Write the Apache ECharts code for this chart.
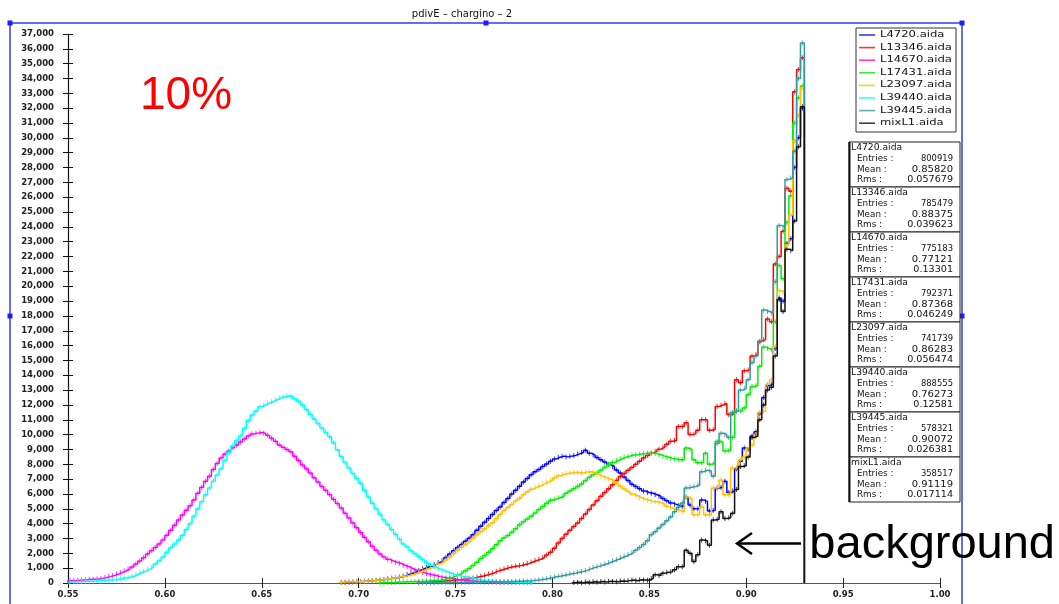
<!DOCTYPE html>
<html>
<head>
<meta charset="utf-8">
<script src="https://cdn.jsdelivr.net/npm/echarts@6/dist/echarts.min.js"></script>
<style>
html, body { margin: 0; padding: 0; background: #fff; }
#chart { width: 1059px; height: 604px; }
</style>
</head>
<body>
<div id="chart"></div>
<script>
// pdivE distributions for the chargino samples, 0.002-wide bins.
// Bin contents are in thousands of entries; each array starts at the lower edge given by *_FIRST.
const BIN_WIDTH = 0.002;

const seriesNames = ['L4720.aida', 'L13346.aida', 'L14670.aida', 'L17431.aida',
                     'L23097.aida', 'L39440.aida', 'L39445.aida', 'mixL1.aida'];

const L4720_FIRST = 0.69;
const L4720 = [
  0.03,0.04,0.05,0.06,0.08,0.1,0.12,0.14,0.16,0.18,
  0.2,0.24,0.28,0.32,0.36,0.4,0.48,0.57,0.66,0.76,
  0.86,0.96,1.08,1.15,1.25,1.38,1.5,1.72,1.95,2.18,
  2.4,2.6,2.82,3.02,3.25,3.55,3.82,4.1,4.35,4.62,
  4.88,5.12,5.42,5.7,6.0,6.25,6.52,6.8,7.05,7.3,
  7.5,7.65,7.85,8.02,8.2,8.35,8.48,8.55,8.5,8.55,
  8.6,8.7,8.8,8.95,8.75,8.62,8.45,8.3,8.15,7.98,
  7.85,7.62,7.42,7.15,6.9,6.65,6.5,6.35,6.2,6.1,
  6.05,5.95,5.85,5.7,5.55,5.4,5.3,5.2,5.15,5.8,
  5.25,5.0,5.0,5.6,5.5,4.85,4.9,6.4,6.45,6.85,
  6.1,6.2,7.7,8.2,9.1,9.0,9.9,10.2,11.4,12.5,
  13.3,13.4,15.8,19.2,19.0,22.9,23.2,28.0,30.0,32.0
];

const L13346_FIRST = 0.73;
const L13346 = [
  0.05,0.06,0.07,0.08,0.09,0.11,0.13,0.15,0.17,0.2,
  0.22,0.25,0.27,0.3,0.34,0.4,0.46,0.52,0.6,0.68,
  0.8,0.88,0.96,1.04,1.1,1.14,1.18,1.25,1.32,1.42,
  1.52,1.6,1.72,1.88,2.08,2.35,2.7,3.0,3.28,3.55,
  3.8,4.05,4.35,4.65,4.95,5.25,5.55,5.85,6.1,6.35,
  6.62,6.9,7.18,7.38,7.6,7.78,8.0,8.2,8.42,8.6,
  8.75,8.88,9.02,9.15,9.35,9.55,9.6,10.55,10.55,10.8,
  10.0,10.05,10.3,11.0,11.0,10.3,10.35,11.9,12.0,12.1,
  11.35,11.4,13.7,13.5,14.3,14.35,15.3,15.4,16.3,16.4,
  17.8,17.6,21.5,22.0,23.7,26.6,26.4,33.1,34.6,35.4
];

const L14670_FIRST = 0.55;
const L14670 = [
  0.15,0.16,0.18,0.2,0.22,0.25,0.26,0.28,0.31,0.37,
  0.43,0.5,0.6,0.7,0.82,0.94,1.08,1.28,1.48,1.7,
  1.95,2.18,2.4,2.62,2.9,3.22,3.55,3.9,4.25,4.58,
  4.9,5.2,5.6,6.05,6.45,6.85,7.2,7.65,8.05,8.42,
  8.7,8.9,9.12,9.3,9.5,9.7,9.9,10.05,10.1,10.15,
  10.1,9.95,9.75,9.55,9.3,9.15,9.0,8.85,8.55,8.25,
  7.95,7.7,7.42,7.1,6.8,6.5,6.25,5.95,5.65,5.35,
  5.05,4.7,4.38,4.05,3.72,3.4,3.08,2.78,2.48,2.2,
  1.95,1.75,1.6,1.48,1.4,1.32,1.2,1.1,0.98,0.88,
  0.78,0.7,0.62,0.55,0.5,0.43,0.38,0.34,0.3,0.26,
  0.22,0.2,0.17,0.15,0.13,0.11,0.1,0.08,0.07,0.06,
  0.05,0.04,0.03,0.03,0.02,0.02,0.02,0.01,0.01,0.01
];

const L17431_FIRST = 0.71;
const L17431 = [
  0.02,0.03,0.04,0.04,0.05,0.06,0.07,0.08,0.09,0.1,
  0.1,0.12,0.13,0.15,0.17,0.19,0.22,0.28,0.36,0.45,
  0.56,0.68,0.82,0.98,1.18,1.4,1.65,1.85,2.08,2.3,
  2.58,2.85,3.05,3.2,3.42,3.65,3.92,4.12,4.32,4.5,
  4.72,4.95,5.15,5.38,5.58,5.65,5.75,5.85,6.05,6.2,
  6.35,6.5,6.68,6.9,7.12,7.3,7.45,7.6,7.8,7.98,
  8.12,8.25,8.38,8.48,8.55,8.62,8.65,8.7,8.72,8.75,
  8.75,8.72,8.65,8.55,8.48,8.4,8.35,8.3,8.3,9.1,
  9.0,8.3,8.1,8.1,8.75,8.0,8.05,9.55,9.5,8.9,
  8.95,9.8,11.6,11.6,11.8,12.7,13.25,13.3,14.6,15.9,
  15.8,15.7,17.6,21.4,20.5,24.3,26.1,31.0,32.7,33.5
];

const L23097_FIRST = 0.69;
const L23097 = [
  0.05,0.06,0.07,0.08,0.09,0.1,0.12,0.13,0.15,0.18,
  0.2,0.24,0.28,0.32,0.38,0.42,0.46,0.5,0.55,0.64,
  0.74,0.84,0.94,1.02,1.12,1.28,1.4,1.55,1.75,1.98,
  2.2,2.4,2.6,2.78,3.02,3.25,3.45,3.65,3.88,4.05,
  4.35,4.62,4.88,5.08,5.3,5.52,5.72,5.95,6.15,6.32,
  6.45,6.55,6.68,6.8,6.92,7.08,7.22,7.32,7.38,7.42,
  7.45,7.45,7.42,7.48,7.5,7.45,7.32,7.2,7.1,7.0,
  6.9,6.72,6.52,6.35,6.18,6.0,5.88,5.75,5.65,5.58,
  5.5,5.48,5.42,5.32,5.18,5.05,4.98,4.9,4.8,5.8,
  5.7,4.6,4.62,5.15,4.6,4.58,6.4,6.45,6.95,5.95,
  5.95,7.75,7.8,8.3,8.5,9.1,9.3,10.0,11.5,11.6,
  13.4,13.7,15.95,19.7,19.6,22.8,24.8,29.8,31.5,33.4
];

const L39440_FIRST = 0.55;
const L39440 = [
  0.08,0.09,0.1,0.1,0.11,0.12,0.13,0.15,0.16,0.18,
  0.2,0.22,0.26,0.3,0.34,0.38,0.45,0.57,0.69,0.8,
  0.92,1.05,1.28,1.5,1.75,2.08,2.38,2.62,2.9,3.2,
  3.6,4.0,4.5,5.0,5.48,5.95,6.4,6.85,7.28,7.7,
  8.25,8.8,9.25,9.58,9.9,10.42,10.95,11.32,11.6,11.88,
  12.0,12.12,12.22,12.35,12.48,12.55,12.6,12.58,12.42,12.25,
  12.0,11.7,11.38,11.05,10.75,10.45,10.15,9.85,9.45,8.98,
  8.52,8.12,7.75,7.38,7.05,6.72,6.25,5.8,5.38,5.0,
  4.62,4.25,3.95,3.6,3.28,2.95,2.62,2.42,2.18,1.98,
  1.78,1.58,1.38,1.2,1.08,0.95,0.85,0.75,0.66,0.58,
  0.5,0.44,0.4,0.36,0.3,0.25,0.2,0.16,0.13,0.11,
  0.09,0.08,0.07,0.06,0.05,0.04,0.04,0.03,0.03,0.02
];

const L39445_FIRST = 0.73;
const L39445 = [
  0.01,0.01,0.01,0.02,0.02,0.02,0.02,0.03,0.03,0.03,
  0.04,0.04,0.05,0.05,0.06,0.06,0.07,0.07,0.08,0.08,
  0.08,0.09,0.09,0.1,0.1,0.11,0.12,0.13,0.14,0.16,
  0.18,0.22,0.26,0.3,0.36,0.42,0.46,0.5,0.56,0.62,
  0.66,0.72,0.78,0.85,0.95,1.05,1.12,1.2,1.28,1.38,
  1.48,1.58,1.7,1.8,1.92,2.05,2.2,2.4,2.6,2.85,
  3.25,3.45,3.7,3.95,4.2,4.45,4.8,5.1,5.4,6.4,
  6.45,6.5,6.6,7.5,7.6,7.55,7.2,9.4,10.1,10.0,
  9.8,11.5,11.6,13.0,13.1,13.7,14.85,15.3,16.25,18.4,
  18.3,18.2,20.3,24.1,24.0,27.2,27.3,29.1,34.0,36.4
];

const mixL1_FIRST = 0.81;
const mixL1 = [
  0.03,0.05,0.02,0.06,0.04,0.08,0.05,0.1,0.06,0.12,
  0.1,0.08,0.14,0.12,0.16,0.2,0.15,0.22,0.2,0.18,
  0.3,0.55,0.5,0.65,0.72,0.75,0.9,1.1,1.1,2.2,
  2.0,1.45,1.9,2.9,2.85,2.55,4.25,4.3,4.8,4.35,
  4.4,4.7,6.3,7.85,7.9,8.5,9.8,9.9,11.0,12.0,
  13.0,13.2,15.3,19.1,18.3,22.5,22.4,24.4,29.4,32.1
];

// statistics printed in the boxes on the right
const statsEntries = ['800919', '785479', '775183', '792371', '741739', '888555', '578321', '358517'];
const statsMean    = ['0.85820', '0.88375', '0.77121', '0.87368', '0.86283', '0.76273', '0.90072', '0.91119'];
const statsRms     = ['0.057679', '0.039623', '0.13301', '0.046249', '0.056474', '0.12581', '0.026381', '0.017114'];

// axis ticks
const xTickMin = 0.55, xTickMax = 1.0, xTickStep = 0.05;
const yTickMax = 37000, yTickStep = 1000;

const histograms = [
  { first: L4720_FIRST,  bins: L4720 },
  { first: L13346_FIRST, bins: L13346 },
  { first: L14670_FIRST, bins: L14670 },
  { first: L17431_FIRST, bins: L17431 },
  { first: L23097_FIRST, bins: L23097 },
  { first: L39440_FIRST, bins: L39440 },
  { first: L39445_FIRST, bins: L39445 },
  { first: mixL1_FIRST,  bins: mixL1 }
];

const colors = ['#0000ff', '#ff0000', '#ff00ff', '#00ee00', '#ffc000', '#00ffff', '#339b9b', '#111111'];

function edge(first, j) { return +(first + j * BIN_WIDTH).toFixed(4); }

// outline of a histogram: one point per lower bin edge, closed down to zero at both ends
function outline(h) {
  const pts = [[edge(h.first, 0), 0]];
  h.bins.forEach((v, j) => pts.push([edge(h.first, j), v * 1000]));
  pts.push([edge(h.first, h.bins.length), 0]);
  return pts;
}
// bin centres, used for the small error-bar marks
function centres(h) {
  return h.bins.map((v, j) => [+(h.first + (j + 0.5) * BIN_WIDTH).toFixed(4), v * 1000]);
}

const series = [];
histograms.forEach((h, i) => {
  series.push({
    name: seriesNames[i], type: 'line', step: 'end', data: outline(h),
    showSymbol: false, silent: true, lineStyle: { color: colors[i], width: 1.5 },
    itemStyle: { color: colors[i] }, z: 2 + i
  });
  series.push({
    name: seriesNames[i] + ' err', type: 'scatter', data: centres(h),
    symbol: 'rect', symbolSize: [1, 5], silent: true,
    itemStyle: { color: colors[i] }, z: 2 + i
  });
});

const labelFont = { fontFamily: 'DejaVu Sans', fontSize: 8.5, fontWeight: 'bold', color: '#222' };

const chart = echarts.init(document.getElementById('chart'), null, { renderer: 'canvas' });

// frame, legend box, statistics boxes and annotations
const graphic = [];
graphic.push({ type: 'rect', shape: { x: 10, y: 23, width: 952, height: 600 },
  style: { fill: 'none', stroke: '#3838f0', lineWidth: 1.5 }, silent: true });
[[10, 23], [486, 23], [962, 23], [10, 316], [962, 316]].forEach(p => {
  graphic.push({ type: 'rect', shape: { x: p[0] - 2.5, y: p[1] - 2.5, width: 5, height: 5 },
    style: { fill: '#1c1cff' }, silent: true });
});
graphic.push({ type: 'text', x: 462, y: 14,
  style: { text: 'pdivE \u2013 chargino \u2013 2', fontFamily: 'DejaVu Sans', fontSize: 10, fill: '#111',
           align: 'center', verticalAlign: 'middle', textAlign: 'center', textVerticalAlign: 'middle' } });
graphic.push({ type: 'text', x: 140, y: 96,
  style: { text: '10%', fontFamily: 'Liberation Sans, Arial', fontSize: 46, fill: '#ff0000',
           align: 'left', verticalAlign: 'middle', textAlign: 'left', textVerticalAlign: 'middle' } });
// arrow pointing at the background histogram
graphic.push({ type: 'polyline', shape: { points: [[752, 533], [737, 543.5], [752, 554]] },
  style: { stroke: '#000', lineWidth: 2.4, fill: 'none' } });
graphic.push({ type: 'line', shape: { x1: 738, y1: 543.5, x2: 801, y2: 543.5 },
  style: { stroke: '#000', lineWidth: 2.4 } });
graphic.push({ type: 'text', x: 1055, y: 545,
  style: { text: 'background', fontFamily: 'Liberation Sans, Arial', fontSize: 47, fill: '#000',
           align: 'right', verticalAlign: 'middle', textAlign: 'right', textVerticalAlign: 'middle' } });

// legend
graphic.push({ type: 'rect', shape: { x: 856, y: 28, width: 100, height: 104 },
  style: { fill: '#fff', stroke: '#333', lineWidth: 1 }, silent: true, z: 50 });
seriesNames.forEach((n, k) => {
  const y = 35 + k * 12.6;
  graphic.push({ type: 'line', shape: { x1: 859, y1: y, x2: 875, y2: y },
    style: { stroke: colors[k], lineWidth: 1.6, opacity: 0.8 }, z: 51 });
  graphic.push({ type: 'text', x: 880, y: y, scaleX: 1.45, z: 51,
    style: { text: n, fontFamily: 'DejaVu Sans', fontSize: 8, fill: '#111',
             align: 'left', verticalAlign: 'middle', textAlign: 'left', textVerticalAlign: 'middle' } });
});

// statistics boxes
seriesNames.forEach((n, k) => {
  const T = 142 + k * 45;
  graphic.push({ type: 'rect', shape: { x: 849, y: T, width: 111, height: 45 },
    style: { fill: '#fff', stroke: '#222', lineWidth: 1 }, z: 50 });
  const txt = (x, y, s, align, sx) => graphic.push({ type: 'text', x: x, y: y, scaleX: sx, z: 51,
    style: { text: s, fontFamily: 'DejaVu Sans', fontSize: 8, fill: '#111',
             align: align, verticalAlign: 'middle', textAlign: align, textVerticalAlign: 'middle' } });
  txt(851, T + 5.5, n, 'left', 1.15);
  txt(857, T + 16.6, 'Entries :', 'left', 1.1);
  txt(857, T + 27.6, 'Mean :', 'left', 1.1);
  txt(857, T + 38.4, 'Rms :', 'left', 1.1);
  txt(953, T + 16.6, statsEntries[k], 'right', 1.05);
  txt(953, T + 27.6, statsMean[k], 'right', 1.25);
  txt(953, T + 38.4, statsRms[k], 'right', 1.2);
});
graphic.push({ type: 'line', shape: { x1: 849.5, y1: 142, x2: 849.5, y2: 502 },
  style: { stroke: '#111', lineWidth: 2 }, z: 52 });

chart.setOption({
  animation: false,
  backgroundColor: '#ffffff',
  grid: { left: 68, right: 119, top: 34, bottom: 21 },
  xAxis: [
    { type: 'value', min: xTickMin, max: xTickMax, interval: xTickStep,
      axisLine: { show: true, lineStyle: { color: '#555', width: 1.2 } },
      axisTick: { show: true, length: 5, lineStyle: { color: '#222' } },
      axisLabel: Object.assign({ margin: 7, formatter: v => v.toFixed(2), showMinLabel: true, showMaxLabel: true }, labelFont),
      splitLine: { show: false } },
    { type: 'value', min: xTickMin, max: xTickMax, interval: xTickStep, position: 'bottom',
      axisLine: { show: false }, axisTick: { show: true, inside: true, length: 5, lineStyle: { color: '#222' } },
      axisLabel: { show: false }, splitLine: { show: false } }
  ],
  yAxis: [
    { type: 'value', min: 0, max: yTickMax, interval: yTickStep,
      axisLine: { show: true, lineStyle: { color: '#111', width: 1.2 } },
      axisTick: { show: true, length: 5, lineStyle: { color: '#111' } },
      axisLabel: Object.assign({ margin: 14, formatter: v => v.toLocaleString('en-US'), showMinLabel: true, showMaxLabel: true }, labelFont),
      splitLine: { show: false } },
    { type: 'value', min: 0, max: yTickMax, interval: yTickStep, position: 'left',
      axisLine: { show: false }, axisTick: { show: true, inside: true, length: 5, lineStyle: { color: '#111' } },
      axisLabel: { show: false }, splitLine: { show: false } }
  ],
  series: series,
  graphic: graphic
});
</script>
</body>
</html>
